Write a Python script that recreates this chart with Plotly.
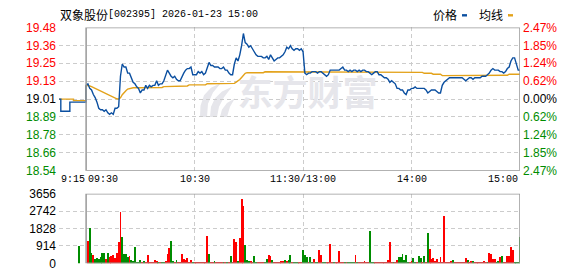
import plotly.graph_objects as go

# ---------------- data ----------------
stock_name = "双象股份"
stock_code_time = "[002395] 2026-01-23 15:00"
prev_close = 19.01
price_tick_labels = ["19.48", "19.36", "19.25", "19.13", "19.01", "18.89", "18.78", "18.66", "18.54"]
pct_tick_labels = ["2.47%", "1.85%", "1.24%", "0.62%", "0.00%", "0.62%", "1.24%", "1.85%", "2.47%"]
vol_tick_vals = [0, 914, 1828, 2742, 3656]
time_labels = ["9:15", "09:30", "10:30", "11:30/13:00", "14:00", "15:00"]
time_label_minutes = [-15, 0, 60, 120, 180, 240]   # minutes relative to 09:30
grid_minutes = [60, 120, 180]

# pre-market (9:15 - 9:29)
pre_minutes = [-15, -14, -13, -12, -11, -10, -9, -8, -7, -6, -5, -4, -3, -2, -1]
pre_price = [19.01, 18.93, 18.93, 18.93, 18.93, 18.93, 18.99, 18.99, 18.99, 18.99, 18.99, 18.99, 18.99, 18.99, 18.99]
pre_avg = [19.01, 19.01, 19.01, 19.01, 19.01, 19.01, 19.01, 19.01, 19.00, 19.00, 19.00, 19.00, 19.00, 19.00, 19.00]
pre_vol_minutes = [-4]
pre_vol = [947]

# trading session, minute 0 = 09:30 ... minute 240 = 15:00
price = [
    19.10, 19.11, 19.08, 19.07, 19.04, 19.02, 18.99, 18.95, 18.94, 18.94,
    18.93, 18.94, 18.92, 18.91, 18.92, 18.91, 18.95, 18.95, 18.96, 19.16,
    19.24, 19.22, 19.22, 19.18, 19.18, 19.15, 19.12, 19.11, 19.09, 19.08,
    19.05, 19.07, 19.07, 19.10, 19.08, 19.10, 19.09, 19.10, 19.10, 19.13,
    19.10, 19.11, 19.11, 19.13, 19.17, 19.20, 19.18, 19.16, 19.15, 19.16,
    19.14, 19.13, 19.13, 19.16, 19.18, 19.20, 19.21, 19.21, 19.22, 19.17,
    19.17, 19.17, 19.19, 19.18, 19.19, 19.17, 19.18, 19.22, 19.25, 19.23,
    19.23, 19.22, 19.22, 19.22, 19.21, 19.21, 19.22, 19.20, 19.20, 19.18,
    19.17, 19.17, 19.24, 19.28, 19.26, 19.30, 19.36, 19.44, 19.38, 19.37,
    19.35, 19.36, 19.34, 19.32, 19.30, 19.29, 19.29, 19.29, 19.28, 19.28,
    19.29, 19.27, 19.30, 19.28, 19.26, 19.27, 19.28, 19.28, 19.29, 19.30,
    19.32, 19.35, 19.34, 19.36, 19.34, 19.33, 19.34, 19.34, 19.33, 19.34,
    19.32, 19.18, 19.17, 19.18, 19.18, 19.19, 19.19, 19.19, 19.18, 19.19,
    19.19, 19.18, 19.17, 19.16, 19.17, 19.20, 19.20, 19.20, 19.20, 19.20,
    19.20, 19.21, 19.22, 19.20, 19.20, 19.19, 19.20, 19.19, 19.20, 19.20,
    19.19, 19.20, 19.19, 19.20, 19.20, 19.19, 19.19, 19.18, 19.17, 19.18,
    19.19, 19.19, 19.17, 19.17, 19.16, 19.15, 19.15, 19.14, 19.12, 19.13,
    19.12, 19.11, 19.08, 19.08, 19.07, 19.07, 19.05, 19.04, 19.07, 19.07,
    19.08, 19.08, 19.09, 19.08, 19.08, 19.08, 19.08, 19.08, 19.07, 19.05,
    19.06, 19.07, 19.07, 19.07, 19.06, 19.05, 19.05, 19.10, 19.12, 19.13,
    19.14, 19.15, 19.15, 19.15, 19.15, 19.15, 19.15, 19.15, 19.15, 19.14,
    19.13, 19.14, 19.15, 19.15, 19.14, 19.15, 19.15, 19.15, 19.15, 19.16,
    19.16, 19.16, 19.17, 19.18, 19.20, 19.21, 19.20, 19.20, 19.20, 19.19,
    19.19, 19.18, 19.19, 19.21, 19.22, 19.26, 19.28, 19.28, 19.24, 19.20,
    19.20,
]
avg_price = [
    19.100, 19.100, 19.096, 19.092, 19.086, 19.080, 19.076, 19.070, 19.063, 19.057,
    19.051, 19.047, 19.041, 19.035, 19.028, 19.022, 19.016, 19.012, 19.010, 19.018,
    19.039, 19.055, 19.065, 19.076, 19.080, 19.082, 19.084, 19.084, 19.084, 19.084,
    19.084, 19.084, 19.084, 19.084, 19.084, 19.084, 19.084, 19.086, 19.086, 19.086,
    19.086, 19.086, 19.086, 19.092, 19.092, 19.092, 19.092, 19.092, 19.092, 19.096,
    19.096, 19.096, 19.096, 19.096, 19.096, 19.096, 19.096, 19.103, 19.103, 19.103,
    19.103, 19.103, 19.103, 19.103, 19.103, 19.103, 19.103, 19.111, 19.111, 19.111,
    19.111, 19.111, 19.111, 19.111, 19.111, 19.111, 19.111, 19.111, 19.111, 19.111,
    19.113, 19.113, 19.113, 19.121, 19.127, 19.138, 19.152, 19.169, 19.179, 19.183,
    19.183, 19.183, 19.183, 19.183, 19.183, 19.183, 19.183, 19.183, 19.183, 19.189,
    19.189, 19.189, 19.189, 19.189, 19.189, 19.189, 19.189, 19.189, 19.189, 19.189,
    19.189, 19.189, 19.189, 19.189, 19.189, 19.189, 19.189, 19.189, 19.189, 19.189,
    19.189, 19.189, 19.189, 19.189, 19.189, 19.189, 19.189, 19.189, 19.189, 19.189,
    19.189, 19.189, 19.189, 19.189, 19.189, 19.189, 19.189, 19.189, 19.189, 19.189,
    19.189, 19.189, 19.189, 19.189, 19.189, 19.189, 19.189, 19.189, 19.189, 19.189,
    19.189, 19.189, 19.189, 19.189, 19.189, 19.189, 19.189, 19.189, 19.189, 19.189,
    19.189, 19.189, 19.189, 19.189, 19.189, 19.189, 19.189, 19.189, 19.185, 19.185,
    19.185, 19.185, 19.185, 19.185, 19.185, 19.185, 19.185, 19.185, 19.185, 19.185,
    19.185, 19.185, 19.185, 19.185, 19.185, 19.185, 19.185, 19.179, 19.179, 19.179,
    19.179, 19.179, 19.173, 19.173, 19.173, 19.173, 19.173, 19.164, 19.164, 19.164,
    19.164, 19.164, 19.164, 19.164, 19.164, 19.164, 19.164, 19.164, 19.164, 19.164,
    19.164, 19.164, 19.164, 19.164, 19.164, 19.164, 19.164, 19.164, 19.164, 19.164,
    19.164, 19.164, 19.164, 19.166, 19.166, 19.166, 19.166, 19.166, 19.166, 19.166,
    19.166, 19.166, 19.166, 19.166, 19.173, 19.173, 19.173, 19.173, 19.173, 19.173,
    19.173,
]
# volume for minutes 1..240 (lots); direction R = up, G = down
volume = [
    1197, 1861, 582, 449, 249, 283, 249, 332, 582, 548,
    249, 532, 366, 415, 465, 283, 532, 1130, 2693, 1396,
    499, 499, 366, 415, 166, 133, 897, 83, 66, 166,
    66, 116, 50, 449, 83, 66, 66, 199, 116, 66,
    100, 66, 66, 116, 499, 831, 1197, 133, 83, 199,
    66, 50, 499, 249, 166, 299, 83, 199, 50, 50,
    50, 50, 50, 50, 50, 50, 1446, 499, 50, 50,
    133, 50, 50, 50, 50, 50, 50, 50, 50, 399,
    50, 1296, 1147, 116, 1346, 3390, 3041, 997, 183, 133,
    116, 50, 399, 50, 50, 50, 83, 50, 50, 249,
    449, 415, 166, 50, 50, 50, 50, 133, 133, 183,
    133, 166, 465, 50, 83, 83, 50, 50, 50, 698,
    465, 332, 50, 332, 50, 216, 50, 50, 698, 465,
    50, 50, 50, 66, 1047, 50, 50, 50, 50, 648,
    50, 66, 50, 50, 50, 50, 50, 50, 465, 50,
    50, 50, 50, 133, 50, 50, 1695, 50, 50, 50,
    50, 50, 50, 50, 50, 50, 166, 1114, 50, 50,
    66, 199, 332, 332, 499, 166, 465, 50, 66, 116,
    299, 50, 50, 399, 299, 50, 399, 50, 1629, 748,
    249, 299, 116, 249, 50, 349, 50, 2493, 50, 50,
    50, 116, 183, 50, 50, 50, 50, 50, 50, 299,
    166, 50, 116, 150, 50, 50, 50, 50, 50, 133,
    83, 50, 548, 499, 249, 249, 100, 150, 332, 382,
    50, 50, 415, 399, 847, 714, 83, 50, 50, 1413,
]
volume_dir = (
    "RGGRGGGGGG" "RGRRRRRRRG" "GGGRGGGGGG" "RGRRRRRRRG" "RGGRRRGGRG"
    "RRRRRRRRGR" "RRRRRRRGRR" "GRRRRGRGRG" "RRRGRRRGGG" "RRGGRRRRGG"
    "RRGRRRRRRG" "RGGRGGGRRG" "GGRGGRGGRR" "GGRRRRGRRR" "RRGRGGGGRG"
    "RRRRRRGGGR" "RRRRRRRRRG" "RRGGGGGGRR" "GGRGGRGRGR" "RRRRRRRRRR"
    "RRGRRRRRRR" "GRRGRRRRRR" "RGRRRRGGRG" "RRRRRRGGGG"
)
pre_vol_dir = "G"

# ---------------- style ----------------
W, H = 578, 276
RED = "#ff0000"
GREEN = "#008c00"
BLUE = "#0b4fa0"
ORANGE = "#e3a21a"
GRID = "#cccccc"
BORDER = "#999999"
NUM_FONT = "Liberation Sans"
MONO_FONT = "Liberation Mono"
CJK_FONT = "Noto Sans CJK SC"

def px_x(p):
    return p / W

def px_y(p):
    return 1 - p / H

x_dom = [px_x(59), px_x(520)]
main_dom = [px_y(172.5), px_y(21.5)]
vol_dom = [px_y(270), px_y(196.7)]

half = 0.47
step = half / 4
tick_vals = [prev_close + (4 - i) * step for i in range(9)]

def colored(texts):
    out = []
    for i, t in enumerate(texts):
        c = RED if i < 4 else ("#000000" if i == 4 else GREEN)
        out.append(f'<span style="color:{c}">{t}</span>')
    return out

session_minutes = list(range(len(price)))
vol_minutes = list(range(1, len(volume) + 1))

fig = go.Figure()

# watermark (drawn first so it stays below the lines)
fig.add_trace(go.Scatter(
    x=[122.5], y=[prev_close + 0.01], mode="text", text=["东方财富"],
    textfont=dict(size=35, color="#e6e6eb", family=CJK_FONT, weight="bold"),
    hoverinfo="skip", showlegend=False, xaxis="x", yaxis="y"))

# pre-market lines (step)
fig.add_trace(go.Scatter(
    x=pre_minutes + [0], y=pre_avg + [avg_price[0]], mode="lines",
    line=dict(color=ORANGE, width=1.4, shape="hv"), showlegend=False, xaxis="x", yaxis="y"))
fig.add_trace(go.Scatter(
    x=pre_minutes + [0], y=pre_price + [price[0]], mode="lines",
    line=dict(color=BLUE, width=1.4, shape="hv"), showlegend=False, xaxis="x", yaxis="y"))
# session lines
fig.add_trace(go.Scatter(
    x=session_minutes, y=avg_price, mode="lines",
    line=dict(color=ORANGE, width=1.4), showlegend=False, xaxis="x", yaxis="y"))
fig.add_trace(go.Scatter(
    x=session_minutes, y=price, mode="lines",
    line=dict(color=BLUE, width=1.4), showlegend=False, xaxis="x", yaxis="y"))

# volume bars
all_vol_x = pre_vol_minutes + vol_minutes
all_vol = pre_vol + volume
all_dir = pre_vol_dir + volume_dir
fig.add_trace(go.Bar(
    x=all_vol_x, y=all_vol, width=0.5,
    marker=dict(color=[RED if d == "R" else GREEN for d in all_dir], line=dict(width=0)),
    showlegend=False, xaxis="x2", yaxis="y3"))

grid_common = dict(showgrid=True, gridcolor=GRID, griddash="4px,3px", gridwidth=1,
                   zeroline=False, showline=False, ticks="", fixedrange=True)

fig.update_layout(
    width=W, height=H, margin=dict(l=0, r=0, t=0, b=0),
    paper_bgcolor="white", plot_bgcolor="white", showlegend=False, bargap=0,
    xaxis=dict(domain=x_dom, range=[-15, 240], anchor="y", tickvals=grid_minutes,
               showticklabels=False, **grid_common),
    yaxis=dict(domain=main_dom, range=[prev_close - half, prev_close + half], anchor="x",
               tickvals=tick_vals, ticktext=colored(price_tick_labels),
               tickfont=dict(family=NUM_FONT, size=12), ticklabelstandoff=2, **grid_common),
    yaxis2=dict(overlaying="y", side="right", anchor="x",
                range=[prev_close - half, prev_close + half],
                tickvals=tick_vals, ticktext=colored(pct_tick_labels),
                tickfont=dict(family=NUM_FONT, size=12), ticklabelstandoff=2,
                showgrid=False, zeroline=False, showline=False, ticks=""),
    xaxis2=dict(domain=x_dom, range=[-15, 240], anchor="y3", tickvals=grid_minutes,
                showticklabels=False, **grid_common),
    yaxis3=dict(domain=vol_dom, range=[0, vol_tick_vals[-1]], anchor="x2",
                tickvals=vol_tick_vals, ticktext=[str(v) for v in vol_tick_vals],
                tickfont=dict(family=NUM_FONT, size=12, color="#000000"),
                ticklabelstandoff=2, **grid_common),
)

# invisible trace to activate yaxis2
fig.add_trace(go.Scatter(x=[0], y=[prev_close], mode="markers", marker=dict(opacity=0),
                         hoverinfo="skip", showlegend=False, xaxis="x", yaxis="y2"))

shapes = [
    dict(type="rect", xref="x", yref="y", x0=0, x1=240,
         y0=prev_close - half, y1=prev_close + half,
         line=dict(color=BORDER, width=1.5), layer="above"),
    dict(type="rect", xref="x2", yref="y3", x0=0, x1=240, y0=0, y1=vol_tick_vals[-1],
         line=dict(color=BORDER, width=1.5), layer="above"),
    # legend marks
    dict(type="rect", xref="paper", yref="paper", x0=px_x(462), x1=px_x(467),
         y0=px_y(10), y1=px_y(7.5), fillcolor=BLUE, line=dict(width=0)),
    dict(type="rect", xref="paper", yref="paper", x0=px_x(508), x1=px_x(513),
         y0=px_y(10), y1=px_y(7.5), fillcolor=ORANGE, line=dict(width=0)),
]

# watermark logo (decorative)
def pth(points):
    return "M " + " L ".join(f"{px_x(a):.5f},{px_y(b):.5f}" for a, b in points) + " Z"

logo_parts = [
    [(200, 116), (200.5, 104), (204, 93), (211, 85), (221, 80), (213, 90), (208, 102), (207, 116)],
    [(210, 116), (211, 105), (215, 96), (222, 89), (232, 84), (224, 95), (219, 105), (217, 116)],
    [(220, 116), (222, 108), (227, 101), (235, 96), (230, 105), (227, 116)],
]
for part in logo_parts:
    shapes.append(dict(type="path", xref="paper", yref="paper", path=pth(part),
                       fillcolor="#e6e6eb", line=dict(width=0), layer="below"))

fig.update_layout(shapes=shapes)

annotations = []
anchors = ["left", "left", "center", "center", "center", "right"]
for lbl, m, a in zip(time_labels, time_label_minutes, anchors):
    annotations.append(dict(text=lbl, x=m, xref="x", y=px_y(182), yref="paper",
                            xanchor=a, yanchor="middle", showarrow=False,
                            font=dict(family=MONO_FONT, size=10, color="#000000")))
annotations.append(dict(text=stock_name, x=px_x(58), y=px_y(8), xref="paper", yref="paper",
                        xanchor="left", yanchor="middle", showarrow=False,
                        font=dict(family=CJK_FONT, size=12, color="#000000")))
annotations.append(dict(text=stock_code_time, x=px_x(106), y=px_y(8), xref="paper", yref="paper",
                        xanchor="left", yanchor="middle", showarrow=False,
                        font=dict(family=MONO_FONT, size=10, color="#000000")))
annotations.append(dict(text="价格", x=px_x(431), y=px_y(8), xref="paper", yref="paper",
                        xanchor="left", yanchor="middle", showarrow=False,
                        font=dict(family=CJK_FONT, size=12, color="#000000")))
annotations.append(dict(text="均线", x=px_x(476.5), y=px_y(8), xref="paper", yref="paper",
                        xanchor="left", yanchor="middle", showarrow=False,
                        font=dict(family=CJK_FONT, size=12, color="#000000")))
fig.update_layout(annotations=annotations)

fig.write_html("out.html")
